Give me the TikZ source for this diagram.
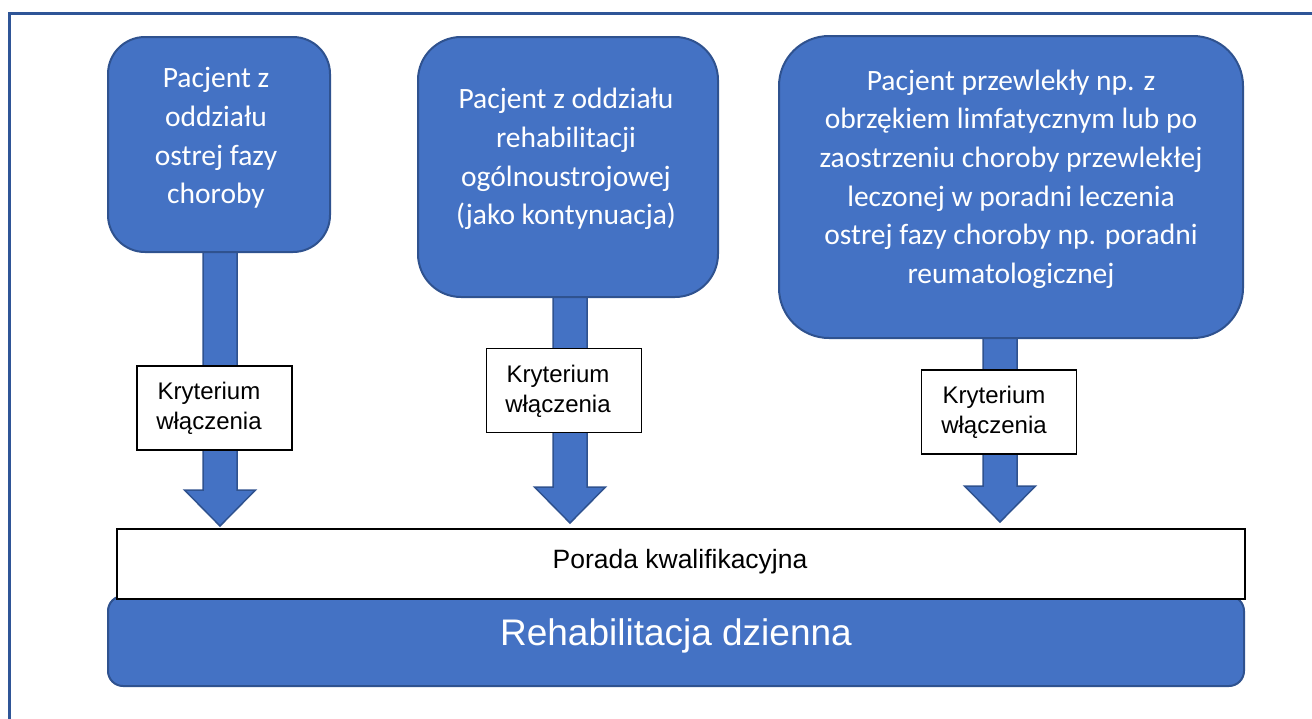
\documentclass[tikz,border=0pt]{standalone}
\usepackage{fontspec}
\newfontfamily\calibri{Carlito}
\newfontfamily\arial{Liberation Sans}
\definecolor{boxblue}{HTML}{4472C4}
\definecolor{edgeblue}{HTML}{2F528F}
\definecolor{frameblue}{HTML}{2F5597}

% wide block arrow from coordinate #1 (top of shaft) to coordinate #2 (tip)
\newcommand\blockarrow[2]{%
  \draw[fatarrow]
    ([xshift=-17pt]#1) -- ([xshift=17pt]#1)
    -- ([xshift=17pt,yshift=36pt]#2) -- ([xshift=35.5pt,yshift=36pt]#2)
    -- (#2)
    -- ([xshift=-35.5pt,yshift=36pt]#2) -- ([xshift=-17pt,yshift=36pt]#2)
    -- cycle;}

\begin{document}
\begin{tikzpicture}[x=1pt,y=-1pt,
  bluebox/.style={draw=edgeblue, line width=2pt, fill=boxblue, rectangle, inner sep=0pt},
  boxtext/.style={text=white, font=\calibri\fontsize{29.5}{38.6}\selectfont, align=center, inner sep=0pt},
  critbox/.style={draw=black, line width=1.5pt, fill=white, rectangle, inner sep=0pt,
                  minimum width=155pt, minimum height=84pt},
  crittext/.style={font=\arial\fontsize{24}{30}\selectfont, align=center, inner sep=0pt},
  fatarrow/.style={fill=boxblue, draw=edgeblue, line width=1.5pt, line join=miter}]

\useasboundingbox (0,0) rectangle (1312,718);

% outer frame, running off the right and bottom edges
\coordinate (fbl) at (9,720);
\coordinate (ftl) at (9,13);
\coordinate (ftr) at (1314,13);
\draw[frameblue, line width=3pt] (fbl) -- (ftl) -- (ftr);

% arrow end points
\coordinate (s1) at (220,252);  \coordinate (t1) at (220,526);
\coordinate (s2) at (570,297);  \coordinate (t2) at (570,523);
\coordinate (s3) at (1000,337); \coordinate (t3) at (1000,522);
\blockarrow{s1}{t1}
\blockarrow{s2}{t2}
\blockarrow{s3}{t3}

% source boxes
\node[bluebox, minimum width=222pt, minimum height=215pt, rounded corners=37pt] (b1) at (219,144.5) {};
\node[boxtext] (b1t) at (216,138) {Pacjent z\\oddziału\\ostrej fazy\\choroby};

\node[bluebox, minimum width=300pt, minimum height=260pt, rounded corners=43pt] (b2) at (568,167) {};
\node[boxtext] (b2t) at (566,159) {Pacjent z oddziału\\rehabilitacji\\ogólnoustrojowej\\(jako kontynuacja)};

\node[bluebox, minimum width=464pt, minimum height=302pt, rounded corners=50pt] (b3) at (1011,187) {};
\node[boxtext] (b3t) at (1011,179) {Pacjent przewlekły np. z\\obrzękiem limfatycznym lub po\\zaostrzeniu choroby przewlekłej\\leczonej w poradni leczenia\\ostrej fazy choroby np. poradni\\reumatologicznej};

% inclusion criteria labels on the arrows
\node[critbox] (k1) at (214.5,408) {};
\node[crittext] (k1t) at (209,408) {Kryterium\\włączenia};
\node[critbox] (k2) at (564,390.5) {};
\node[crittext] (k2t) at (558,391) {Kryterium\\włączenia};
\node[critbox] (k3) at (999,412) {};
\node[crittext] (k3t) at (994,412) {Kryterium\\włączenia};

% bottom: day rehabilitation with qualification visit above it
\node[bluebox, minimum width=1136pt, minimum height=90pt, rounded corners=15pt] (rd) at (676,641) {};
\node[font=\arial\fontsize{37}{44}\selectfont, text=white, inner sep=0pt] (rdt) at (676,636) {Rehabilitacja dzienna};
\node[draw=black, line width=2.5pt, fill=white, rectangle, inner sep=0pt,
      minimum width=1128pt, minimum height=70pt] (pk) at (681,564) {};
\node[font=\arial\fontsize{26.5}{30}\selectfont, inner sep=0pt] (pkt) at (680,562) {Porada kwalifikacyjna};
\end{tikzpicture}
\end{document}
